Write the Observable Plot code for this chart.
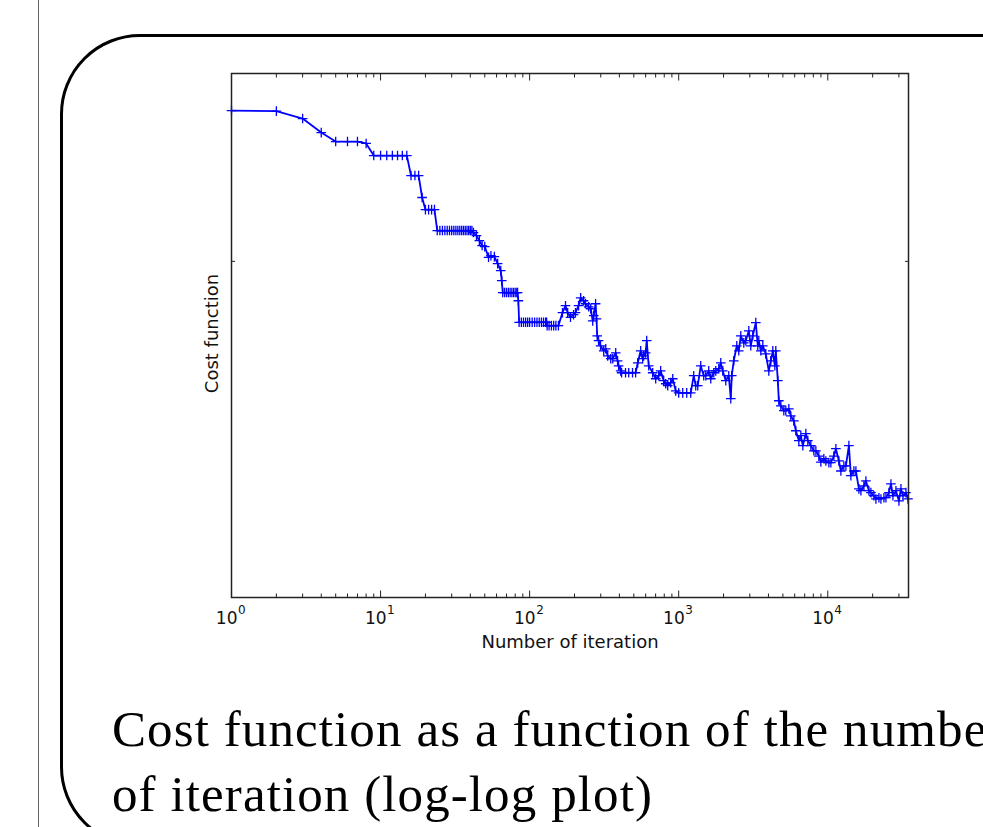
<!DOCTYPE html>
<html>
<head>
<meta charset="utf-8">
<script src="https://cdn.jsdelivr.net/npm/d3@7"></script>
<script src="https://cdn.jsdelivr.net/npm/@observablehq/plot@0.6"></script>
<style>
  html, body { margin: 0; padding: 0; background: #fff; }
  #page { position: relative; width: 983px; height: 827px; overflow: hidden; background: #fff; }
  #chart { position: absolute; left: 0; top: 0; }
  #vline { position: absolute; left: 38px; top: 0; width: 1px; height: 827px; background: #666; }
  #box { position: absolute; left: 60.25px; top: 34.25px; width: 1100px; height: 812.5px;
         border: 3.5px solid #000; border-radius: 80px; box-sizing: border-box; }
  #caption { position: absolute; left: 112px; top: 697px; font-family: "Liberation Serif", serif;
             font-size: 51px; line-height: 65px; white-space: nowrap; color: #000; letter-spacing: 1.1px; }
</style>
</head>
<body>
<div id="page">
  <div id="chart"></div>
  <div id="vline"></div>
  <div id="box"></div>
  <div id="caption">Cost function as a function of the number<br>of iteration (log-log plot)</div>
</div>
<script>
// Iteration numbers (x) and cost-function values (y)
const iterations = [
  1,2,3,4,5,6,7,8,9,10,11,12,13,14,15,16,17,18,19,20,21,22,23,
  24,25,26,27,28,29,30,31,32,33,34,35,36,37,38,39,40,41,
  42,44,46,48,50,53,55,58,61,64,65,66,68,70,72,74,76,78,80,82,83,84,85,
  88,91,94,97,100,104,108,112,116,120,124,128,130,
  131,135,140,145,150,156,
  166,174,180,188,197,203,213,220,230,237,
  249,257,265,269,277,281,284,290,299,314,
  324,334,350,361,378,389,395,408,414,440,
  462,490,514,531,556,573,582,600,610,629,
  669,701,734,757,793,818,844,884,912,955,
  1000,1064,1132,1204,1261,1301,1342,1405,1472,1519,
  1590,1641,1719,1773,1857,1915,1975,2069,2167,2235,
  2270,2341,2452,2529,2609,2734,2818,2953,3045,3140,
  3290,3393,3446,3554,3667,3839,4022,4148,4278,4414,
  4481,4623,4695,4842,5073,5231,5482,5651,5922,6107,
  6395,6597,6804,7127,7349,7700,8065,8322,8713,8989,
  9413,9711,10170,10491,10988,11336,11873,12246,12828,13231,
  13857,14291,14974,15442,16178,16686,17477,18031,18880,19474,
  20395,21038,22040,22732,23806,24556,25720,26532,27367,28660,
  30020,30967,31937,33455,34514
];
const cost = [
  1.940,1.935,1.873,1.761,1.693,1.693,1.693,1.679,1.592,1.592,1.592,1.592,1.592,1.592,1.592,1.458,1.458,1.458,1.324,1.255,1.255,1.255,1.255,
  1.145,1.145,1.145,1.145,1.145,1.145,1.145,1.145,1.145,1.145,1.145,1.145,1.145,1.145,1.145,1.145,1.145,1.145,
  1.135,1.120,1.095,1.072,1.067,1.018,1.025,1.021,0.990,0.960,0.919,0.872,0.872,0.872,0.872,0.872,0.872,0.872,0.872,0.872,0.872,0.841,0.765,
  0.765,0.765,0.765,0.765,0.765,0.765,0.765,0.765,0.765,0.765,0.765,0.765,0.765,
  0.754,0.754,0.754,0.754,0.754,0.754,
  0.798,0.823,0.798,0.782,0.791,0.798,0.823,0.852,0.841,0.830,
  0.819,0.812,0.770,0.788,0.830,0.777,0.721,0.706,0.690,0.675,
  0.681,0.660,0.652,0.652,0.669,0.646,0.632,0.618,0.613,0.613,
  0.613,0.613,0.613,0.640,0.675,0.652,0.660,0.669,0.706,0.632,
  0.613,0.597,0.605,0.618,0.592,0.584,0.579,0.587,0.597,0.566,
  0.561,0.561,0.561,0.561,0.605,0.579,0.579,0.632,0.605,0.605,
  0.618,0.597,0.613,0.618,0.624,0.640,0.618,0.592,0.605,0.547,
  0.605,0.646,0.690,0.675,0.721,0.699,0.706,0.737,0.690,0.721,
  0.764,0.690,0.706,0.675,0.690,0.666,0.618,0.646,0.675,0.632,
  0.675,0.592,0.542,0.530,0.519,0.519,0.523,0.507,0.496,0.475,
  0.455,0.465,0.445,0.469,0.455,0.445,0.435,0.435,0.425,0.414,
  0.420,0.416,0.413,0.413,0.425,0.439,0.416,0.398,0.407,0.407,
  0.445,0.390,0.398,0.398,0.368,0.365,0.373,0.381,0.365,0.362,
  0.357,0.352,0.354,0.352,0.354,0.354,0.362,0.376,0.357,0.365,
  0.349,0.368,0.357,0.362,0.352
];
const majorTicks = [1, 10, 100, 1000, 10000];
const tickBase = ["10", "10", "10", "10", "10"];
const tickExponents = ["0", "1", "2", "3", "4"];
const minorTicks = [
  2,3,4,5,6,7,8,9,
  20,30,40,50,60,70,80,90,
  200,300,400,500,600,700,800,900,
  2000,3000,4000,5000,6000,7000,8000,9000,
  20000,30000
];
const yTicks = [1];
const xLabel = "Number of iteration";
const yLabel = "Cost function";

const data = iterations.map((n, i) => ({n, c: cost[i]}));

const plusSymbol = {
  draw(ctx, size) {
    const r = Math.sqrt(size / Math.PI);
    ctx.moveTo(-r, 0); ctx.lineTo(r, 0);
    ctx.moveTo(0, -r); ctx.lineTo(0, r);
  }
};

const axisColor = "#222";
const chart = Plot.plot({
  width: 983,
  height: 680,
  marginLeft: 231,
  marginRight: 75,
  marginTop: 73,
  marginBottom: 83,
  style: {fontFamily: "DejaVu Sans", fontSize: "17px", background: "transparent", color: "#000"},
  x: {type: "log", domain: [1, 34800]},
  y: {type: "log", domain: [0.2283, 2.283]},
  marks: [
    Plot.line(data, {x: "n", y: "c", stroke: "#0000ff", strokeWidth: 1.8}),
    Plot.dot(data, {x: "n", y: "c", symbol: plusSymbol, r: 4.8, stroke: "#0000ff", fill: "none", strokeWidth: 1.3}),
    // inward ticks, bottom and top
    Plot.axisX({anchor: "bottom", ticks: majorTicks, tickSize: -6.5, tickFormat: () => "", stroke: axisColor, label: null}),
    Plot.axisX({anchor: "bottom", ticks: minorTicks, tickSize: -3.5, tickFormat: () => "", stroke: axisColor, label: null}),
    Plot.axisX({anchor: "top", ticks: majorTicks, tickSize: -6.5, tickFormat: () => "", stroke: axisColor, label: null}),
    Plot.axisX({anchor: "top", ticks: minorTicks, tickSize: -3.5, tickFormat: () => "", stroke: axisColor, label: null}),
    // inward ticks, left and right
    Plot.axisY({anchor: "left", ticks: yTicks, tickSize: -4, tickFormat: () => "", stroke: axisColor, label: null}),
    Plot.axisY({anchor: "right", ticks: yTicks, tickSize: -4, tickFormat: () => "", stroke: axisColor, label: null}),
    // tick labels 10^k
    Plot.text(majorTicks, {x: d => d, frameAnchor: "bottom", text: (d, i) => tickBase[i], textAnchor: "end",
      lineAnchor: "middle", dx: 6, dy: 21, fontSize: 17, fill: "#111"}),
    Plot.text(majorTicks, {x: d => d, frameAnchor: "bottom", text: (d, i) => tickExponents[i], textAnchor: "start",
      lineAnchor: "middle", dx: 6.5, dy: 13, fontSize: 12, fill: "#111"}),
    // axis titles
    Plot.text([xLabel], {frameAnchor: "bottom", text: d => d, textAnchor: "middle", lineAnchor: "middle", dy: 45, fontSize: 18, fill: "#111"}),
    Plot.text([yLabel], {frameAnchor: "left", text: d => d, rotate: -90, textAnchor: "middle", lineAnchor: "middle", dx: -19.5, dy: -2, fontSize: 18, fill: "#111"}),
    Plot.frame({stroke: axisColor, strokeWidth: 1.5})
  ]
});
document.getElementById("chart").appendChild(chart);
</script>
</body>
</html>
